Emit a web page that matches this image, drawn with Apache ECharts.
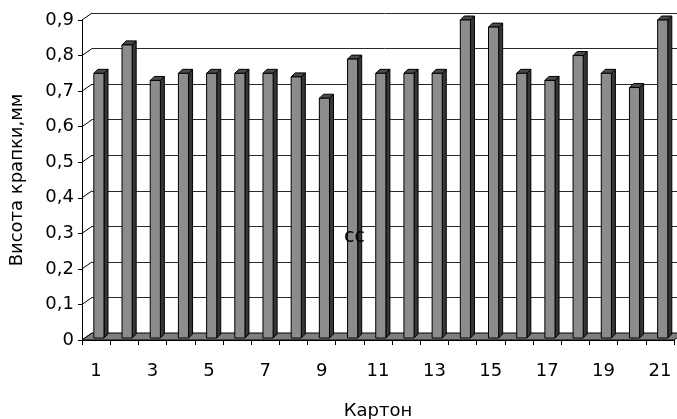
<!DOCTYPE html>
<html>
<head>
<meta charset="utf-8">
<script src="https://cdn.jsdelivr.net/npm/echarts@6/dist/echarts.min.js"></script>
<style>
  html, body { margin: 0; padding: 0; background: #ffffff; }
  #chart { width: 677px; height: 419px; }
</style>
</head>
<body>
<div id="chart"></div>
<script>
// Categories (cardboard samples) and measured drop heights, mm
const categories = ['1','2','3','4','5','6','7','8','9','10','11','12','13','14','15','16','17','18','19','20','21'];
const heights = [0.75, 0.83, 0.73, 0.75, 0.75, 0.75, 0.75, 0.74, 0.68, 0.79, 0.75,
                 0.75, 0.75, 0.90, 0.88, 0.75, 0.73, 0.80, 0.75, 0.71, 0.90];
const yTicks = [0, 0.1, 0.2, 0.3, 0.4, 0.5, 0.6, 0.7, 0.8, 0.9];
const yMin = 0, yMax = 0.9, yStep = 0.1;

const FONT = 'DejaVu Sans';
// depth of the back wall relative to the front plane (px)
const WALL_DX = 10, WALL_DY = 7;
// depth of a single column (px)
const BAR_DX = 4, BAR_DY = 4;

function fmt(v) {
  return v === 0 ? '0' : v.toFixed(1).replace('.', ',');
}

// Floor of the 3D plot area
function renderFloor(params, api) {
  const cs = params.coordSys;
  const y0 = api.coord([0, yMin])[1];
  const x0 = cs.x, x1 = cs.x + cs.width;
  return {
    type: 'polygon',
    shape: { points: [[x0, y0], [x1, y0], [x1 + WALL_DX, y0 - WALL_DY], [x0 + WALL_DX, y0 - WALL_DY]] },
    style: { fill: '#7f7f7f', stroke: '#000', lineWidth: 1 }
  };
}

// Slanted grid lines on the left side wall
function renderSideLine(params, api) {
  const cs = params.coordSys;
  const y = api.coord([0, api.value(1)])[1];
  return {
    type: 'line',
    shape: { x1: cs.x, y1: y, x2: cs.x + WALL_DX, y2: y - WALL_DY },
    style: { stroke: '#000', lineWidth: 1 }
  };
}

// 3D column: front face, right side and top
function renderBar(params, api) {
  const i = api.value(0), v = api.value(1);
  const top = api.coord([i, v]);
  const base = api.coord([i, 0]);
  const band = api.size([1, 0])[0];
  const w = band * 0.36;
  const cx = top[0] + band * 0.1;
  const x0 = cx - w / 2, x1 = cx + w / 2;
  const yt = top[1], yb = base[1] - 2;
  return {
    type: 'group',
    children: [
      { type: 'polygon',
        shape: { points: [[x1, yb], [x1 + BAR_DX, yb - BAR_DY], [x1 + BAR_DX, yt - BAR_DY], [x1, yt]] },
        style: { fill: '#363636', stroke: '#000', lineWidth: 1 } },
      { type: 'polygon',
        shape: { points: [[x0, yt], [x1, yt], [x1 + BAR_DX, yt - BAR_DY], [x0 + BAR_DX, yt - BAR_DY]] },
        style: { fill: '#4a4a4a', stroke: '#000', lineWidth: 1 } },
      { type: 'rect',
        shape: { x: x0, y: yt, width: w, height: yb - yt },
        style: { fill: '#8c8c8c', stroke: '#000', lineWidth: 1 } }
    ]
  };
}

const chart = echarts.init(document.getElementById('chart'), null, { renderer: 'canvas' });

chart.setOption({
  animation: false,
  backgroundColor: '#ffffff',
  textStyle: { fontFamily: FONT },
  grid: [
    { left: 82, right: 3, top: 20, bottom: 79, containLabel: false, outerBoundsMode: 'none' },
    { left: 82 + WALL_DX, right: 0, top: 20 - WALL_DY, bottom: 79 + WALL_DY, containLabel: false, outerBoundsMode: 'none' }
  ],
  xAxis: [
    {
      type: 'category',
      gridIndex: 0,
      data: categories,
      boundaryGap: true,
      name: 'Картон',
      nameLocation: 'middle',
      nameGap: 62,
      nameTextStyle: { fontFamily: FONT, fontSize: 18, color: '#000' },
      axisLine: { show: true, lineStyle: { color: '#000', width: 1 } },
      axisTick: { show: true, interval: 0, length: 5, lineStyle: { color: '#000' } },
      axisLabel: { interval: 1, margin: 22, fontFamily: FONT, fontSize: 18, color: '#000' },
      splitLine: { show: false }
    },
    { type: 'value', gridIndex: 1, show: false }
  ],
  yAxis: [
    {
      type: 'value',
      gridIndex: 0,
      min: yMin, max: yMax, interval: yStep,
      name: 'Висота крапки,мм',
      nameLocation: 'middle',
      nameRotate: 90,
      nameGap: 56,
      nameTextStyle: { fontFamily: FONT, fontSize: 18, color: '#000' },
      axisLine: { show: true, lineStyle: { color: '#000', width: 1 } },
      axisTick: { show: true, length: 4, lineStyle: { color: '#000' } },
      axisLabel: { margin: 8, fontFamily: FONT, fontSize: 18, color: '#000', formatter: fmt },
      splitLine: { show: false }
    },
    {
      type: 'value',
      gridIndex: 1,
      min: yMin, max: yMax, interval: yStep,
      axisLine: { show: false },
      axisTick: { show: false },
      axisLabel: { show: false },
      splitLine: { show: true, lineStyle: { color: '#2a2a2a', width: 1 } }
    }
  ],
  graphic: [
    {
      type: 'text',
      left: 344, top: 228,
      style: { text: 'сс', font: '19px "DejaVu Sans"', fill: '#000' },
      z: 100
    }
  ],
  series: [
    {
      type: 'custom',
      name: 'side',
      xAxisIndex: 0, yAxisIndex: 0,
      data: yTicks.map(v => [0, v]),
      renderItem: renderSideLine,
      clip: false,
      silent: true,
      z: 1
    },
    {
      type: 'custom',
      name: 'floor',
      xAxisIndex: 0, yAxisIndex: 0,
      data: [[0, 0]],
      renderItem: renderFloor,
      clip: false,
      silent: true,
      z: 2
    },
    {
      type: 'custom',
      name: 'Висота',
      xAxisIndex: 0, yAxisIndex: 0,
      data: heights.map((h, i) => [i, h]),
      renderItem: renderBar,
      clip: false,
      z: 3
    }
  ]
});
</script>
</body>
</html>
